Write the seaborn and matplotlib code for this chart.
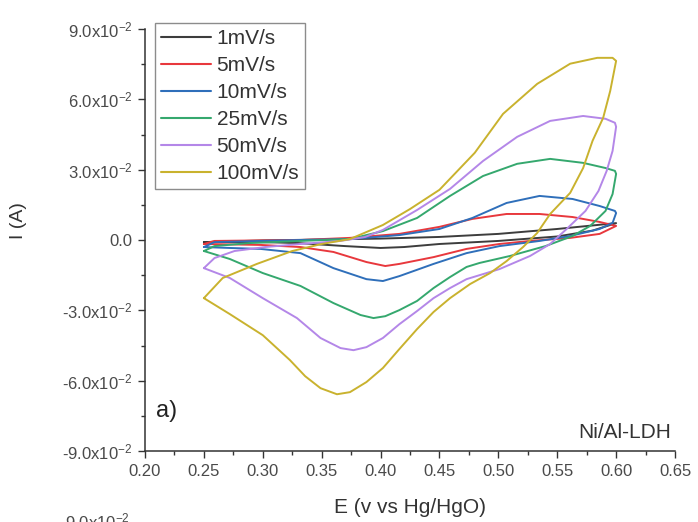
import matplotlib
matplotlib.use("Agg")
import matplotlib.pyplot as plt
from matplotlib.ticker import MultipleLocator, FuncFormatter, FixedLocator
from matplotlib.lines import Line2D
import pandas as pd
import seaborn as sns

# Scan rates and their colours
scan_rates = ["1mV/s", "5mV/s", "10mV/s", "25mV/s", "50mV/s", "100mV/s"]
colors = ["#3d3d3d", "#e8383d", "#2f6fba", "#35a86e", "#b487e8", "#c9b22e"]

# Cyclic voltammograms: anodic sweep 0.25 -> 0.60 V, then cathodic sweep back
E_1 = [0.250, 0.300, 0.350, 0.400, 0.450, 0.500, 0.550, 0.600,
       0.580, 0.550, 0.500, 0.450, 0.420, 0.400, 0.370, 0.330, 0.300, 0.250]
I_1 = [-0.0009, -0.0002, 0.0002, 0.0006, 0.0013, 0.0026, 0.0047, 0.0072,
       0.0040, 0.0015, -0.0004, -0.0017, -0.0030, -0.0034, -0.0026, -0.0013, -0.0009, -0.0009]

E_5 = [0.250, 0.259, 0.332, 0.374, 0.416, 0.450, 0.478, 0.507, 0.535, 0.563, 0.586, 0.600,
       0.586, 0.561, 0.527, 0.501, 0.473, 0.445, 0.416, 0.404, 0.388, 0.360, 0.332, 0.298, 0.250]
I_5 = [-0.0017, -0.0004, 0.0000, 0.0009, 0.0026, 0.0056, 0.0090, 0.0111, 0.0111, 0.0098, 0.0077, 0.0060,
       0.0026, 0.0009, -0.0004, -0.0017, -0.0038, -0.0073, -0.0102, -0.0111, -0.0094, -0.0051, -0.0030, -0.0021, -0.0017]

E_10 = [0.250, 0.259, 0.298, 0.332, 0.374, 0.416, 0.450, 0.478, 0.507, 0.535, 0.563, 0.586, 0.599, 0.600,
        0.597, 0.586, 0.561, 0.535, 0.501, 0.473, 0.445, 0.416, 0.402, 0.388, 0.360, 0.332, 0.298, 0.272, 0.250]
I_10 = [-0.0030, -0.0009, -0.0004, 0.0000, 0.0004, 0.0021, 0.0047, 0.0094, 0.0158, 0.0188, 0.0175, 0.0145, 0.0124, 0.0115,
        0.0073, 0.0047, 0.0017, -0.0004, -0.0026, -0.0056, -0.0102, -0.0154, -0.0175, -0.0167, -0.0120, -0.0056, -0.0038, -0.0034, -0.0030]

E_25 = [0.250, 0.259, 0.289, 0.332, 0.374, 0.402, 0.431, 0.459, 0.487, 0.516, 0.544, 0.572, 0.591, 0.599, 0.600,
        0.597, 0.591, 0.578, 0.563, 0.540, 0.510, 0.484, 0.473, 0.459, 0.445, 0.431, 0.416, 0.404, 0.394, 0.383,
        0.360, 0.332, 0.300, 0.272, 0.250]
I_25 = [-0.0047, -0.0026, -0.0013, -0.0004, 0.0004, 0.0038, 0.0094, 0.0188, 0.0273, 0.0325, 0.0346, 0.0329, 0.0307, 0.0295, 0.0282,
        0.0196, 0.0124, 0.0060, 0.0017, -0.0026, -0.0068, -0.0098, -0.0115, -0.0158, -0.0205, -0.0260, -0.0299, -0.0325, -0.0333, -0.0320,
        -0.0269, -0.0196, -0.0141, -0.0081, -0.0047]

E_50 = [0.250, 0.259, 0.276, 0.302, 0.332, 0.366, 0.387, 0.402, 0.431, 0.459, 0.487, 0.516, 0.544, 0.572, 0.591, 0.599, 0.600,
        0.597, 0.592, 0.585, 0.574, 0.558, 0.544, 0.527, 0.501, 0.473, 0.459, 0.445, 0.431, 0.416, 0.402, 0.388, 0.377,
        0.366, 0.349, 0.329, 0.300, 0.272, 0.250]
I_50 = [-0.0120, -0.0077, -0.0047, -0.0030, -0.0017, -0.0004, 0.0013, 0.0043, 0.0128, 0.0218, 0.0337, 0.0440, 0.0508, 0.0529, 0.0517, 0.0500, 0.0483,
        0.0380, 0.0295, 0.0209, 0.0124, 0.0047, -0.0017, -0.0068, -0.0124, -0.0167, -0.0205, -0.0248, -0.0303, -0.0359, -0.0418, -0.0457, -0.0470,
        -0.0461, -0.0418, -0.0333, -0.0248, -0.0162, -0.0120]

E_100 = [0.250, 0.266, 0.295, 0.325, 0.350, 0.374, 0.402, 0.425, 0.450, 0.480, 0.504, 0.533, 0.561, 0.584, 0.597, 0.600,
         0.595, 0.589, 0.580, 0.572, 0.561, 0.544, 0.533, 0.521, 0.507, 0.493, 0.476, 0.459, 0.445, 0.431, 0.416, 0.402,
         0.388, 0.374, 0.363, 0.349, 0.336, 0.323, 0.300, 0.272, 0.250]
I_100 = [-0.0248, -0.0162, -0.0102, -0.0047, -0.0017, 0.0004, 0.0064, 0.0132, 0.0214, 0.0372, 0.0538, 0.0666, 0.0752, 0.0777, 0.0777, 0.0764,
         0.0636, 0.0521, 0.0423, 0.0307, 0.0201, 0.0111, 0.0030, -0.0030, -0.0090, -0.0141, -0.0188, -0.0248, -0.0307, -0.0380, -0.0465, -0.0546,
         -0.0606, -0.0649, -0.0658, -0.0632, -0.0581, -0.0512, -0.0406, -0.0316, -0.0248]

x_ticks = [0.20, 0.25, 0.30, 0.35, 0.40, 0.45, 0.50, 0.55, 0.60, 0.65]
y_ticks = [-0.09, -0.06, -0.03, 0.0, 0.03, 0.06, 0.09]

curves = {
    "1mV/s": (E_1, I_1), "5mV/s": (E_5, I_5), "10mV/s": (E_10, I_10),
    "25mV/s": (E_25, I_25), "50mV/s": (E_50, I_50), "100mV/s": (E_100, I_100),
}
frames = []
for rate in scan_rates:
    e, i = curves[rate]
    frames.append(pd.DataFrame({"E": e, "I": i, "rate": rate, "step": range(len(e))}))
df = pd.concat(frames, ignore_index=True)

sns.set_style("ticks")
plt.rcParams["font.family"] = ["Liberation Sans", "DejaVu Sans"]
plt.rcParams["mathtext.fontset"] = "custom"
plt.rcParams["mathtext.rm"] = "Liberation Sans"
plt.rcParams["mathtext.it"] = "Liberation Sans"

fig = plt.figure(figsize=(6.98, 5.22), dpi=100)
ax = fig.add_axes([145 / 698, (522 - 451) / 522, 530 / 698, 422 / 522])

sns.lineplot(data=df, x="E", y="I", hue="rate", hue_order=scan_rates, palette=colors,
             units="rate", estimator=None, sort=False, linewidth=1.4, legend=False, ax=ax)

ax.set_xlim(0.20, 0.65)
ax.set_ylim(-0.09, 0.09)
ax.xaxis.set_major_locator(FixedLocator(x_ticks))
ax.yaxis.set_major_locator(FixedLocator(y_ticks))
ax.xaxis.set_minor_locator(MultipleLocator(0.025))
ax.yaxis.set_minor_locator(MultipleLocator(0.015))
ax.xaxis.set_major_formatter(FuncFormatter(lambda v, p: f"{v:.2f}"))


def y_fmt(v, pos):
    if abs(v) < 1e-9:
        return "0.0"
    return f"{v * 100:.1f}x10$^{{-2}}$"


ax.yaxis.set_major_formatter(FuncFormatter(y_fmt))

for side in ("top", "right"):
    ax.spines[side].set_visible(False)
for side in ("left", "bottom"):
    ax.spines[side].set_color("#333333")
    ax.spines[side].set_linewidth(1.1)

ax.tick_params(which="major", direction="out", length=5, width=1, color="#333333",
               labelcolor="#4a4a4a", labelsize=12, pad=4)
ax.tick_params(which="minor", direction="out", length=3, width=1, color="#333333")

ax.set_xlabel("E (v vs Hg/HgO)", fontsize=15, color="#333333")
ax.xaxis.set_label_coords(0.5, -0.112)
ax.set_ylabel("I (A)", fontsize=14, color="#333333")
ax.yaxis.set_label_coords(-0.222, 0.545)

ax.text(0.040, 0.095, "a)", transform=ax.transAxes, fontsize=17, ha="center", va="center", color="#222222")
ax.text(0.906, 0.043, "Ni/Al-LDH", transform=ax.transAxes, fontsize=15, ha="center", va="center", color="#333333")

handles = [Line2D([], [], color=c, lw=1.5) for c in colors]
leg = ax.legend(handles, scan_rates, loc="upper left", bbox_to_anchor=(0.019, 1.014),
                borderaxespad=0, frameon=True, fancybox=False, edgecolor="#8c8c8c", framealpha=1,
                fontsize=15, handlelength=2.4, handletextpad=0.25, labelspacing=0.38, borderpad=0.3)
leg.get_frame().set_linewidth(1.0)
for t in leg.get_texts():
    t.set_color("#333333")

# top of the next panel's first tick label, cut by the figure edge
fig.text(130 / 698, 0.002, "9.0x10$^{-2}$", fontsize=12, ha="right", va="center", color="#4a4a4a")

fig.savefig("out.png", dpi=100)
